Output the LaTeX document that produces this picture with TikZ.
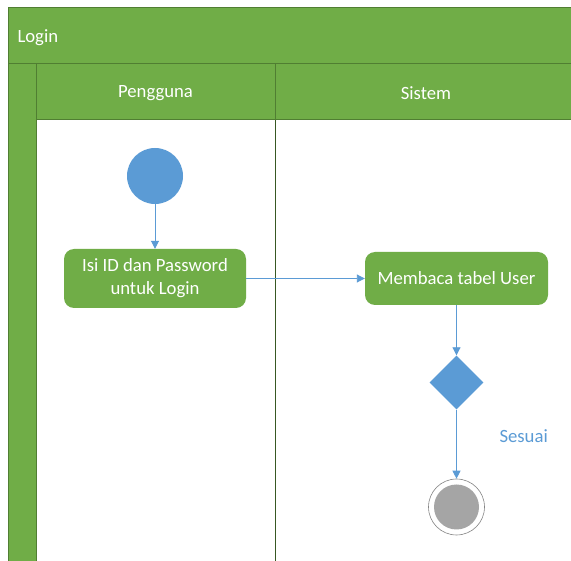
\documentclass[tikz,border=0pt]{standalone}
\usepackage{fontspec}
\setmainfont{Carlito}
\usetikzlibrary{shapes.geometric,arrows.meta}
\definecolor{lanegreen}{HTML}{70AD47}
\definecolor{edgegreen}{HTML}{507E32}
\definecolor{flowblue}{HTML}{5B9BD5}
\definecolor{endgray}{HTML}{A5A5A5}
\tikzset{
  band/.style={fill=lanegreen, draw=edgegreen, line width=1pt},
  action/.style={rounded corners=10pt, fill=lanegreen, draw=none, text=white,
    align=center, font=\fontsize{18.7}{23}\selectfont, inner sep=0pt},
  flow/.style={draw=flowblue, line width=0.9pt, -{Triangle[length=8pt,width=8pt]}},
  lbl/.style={text=white, font=\fontsize{18.7}{22}\selectfont}
}
\begin{document}
\begin{tikzpicture}[x=1pt,y=-1pt]
\useasboundingbox (0,0) rectangle (571,561);
\begin{scope}
\clip (0,0) rectangle (571,561);
% swimlane frame
\fill[white] (36,120) rectangle (580,570);
\draw[band] (8,8) rectangle (580,64);
\draw[band] (8,64) rectangle (36,570);
\draw[band] (36,64) rectangle (275,120);
\draw[band] (275,64) rectangle (580,120);
\draw[edgegreen!70!black, line width=1pt] (275,120) -- (275,570);
\draw[edgegreen, line width=1pt] (36,120) -- (36,570);
\end{scope}
\node[lbl, anchor=west] (title) at (14,38) {Login};
\node[lbl] (lane1) at (155.5,93.5) {Pengguna};
\node[lbl] (lane2) at (426,93) {Sistem};
% nodes
\node[circle, fill=flowblue, minimum size=56pt, inner sep=0pt] (start) at (155,176) {};
\node[action, minimum width=182pt, minimum height=59pt, text depth=4pt] (isi) at (155,278.5) {Isi ID dan Password\\untuk Login};
\node[action, minimum width=183pt, minimum height=53pt] (baca) at (456.5,278.5) {Membaca tabel User};
\node[diamond, fill=flowblue, minimum width=54pt, minimum height=54pt, inner sep=0pt] (cek) at (456.5,382.5) {};
\node[circle, draw=endgray!80!black, line width=0.6pt, fill=white, minimum size=56pt, inner sep=0pt] (akhir) at (456.5,507) {};
\node[circle, fill=endgray, minimum size=45pt, inner sep=0pt] (akhirin) at (akhir) {};
% flows
\draw[flow] (start) -- (isi);
\draw[flow] (isi) -- (baca);
\draw[flow] (baca) -- (cek);
\draw[flow] (cek) -- (akhir);
\node[text=flowblue, font=\fontsize{18.7}{22}\selectfont, anchor=west] (sesuai) at (496,436) {Sesuai};
\end{tikzpicture}
\end{document}
